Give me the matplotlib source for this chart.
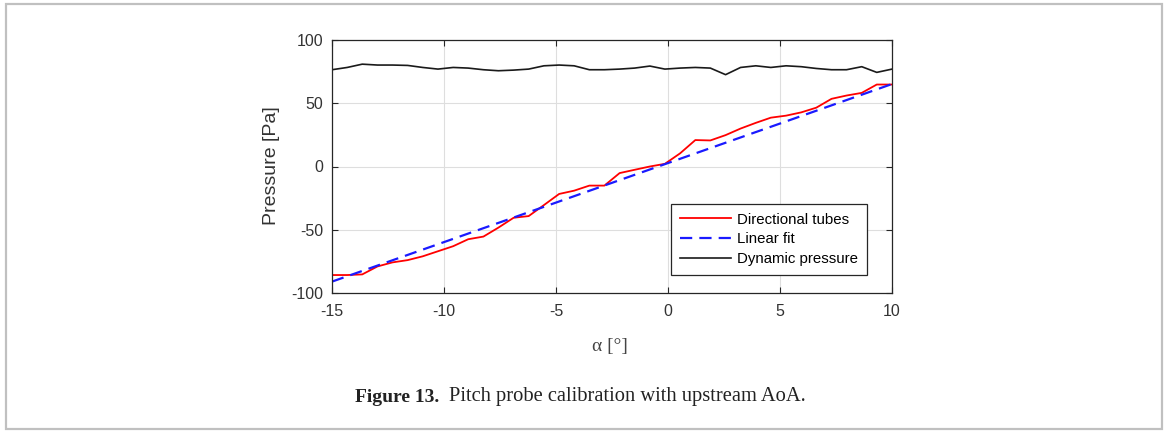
import matplotlib
matplotlib.use("Agg")
import matplotlib.pyplot as plt
from matplotlib.patches import Rectangle

plt.rcParams["axes.unicode_minus"] = False

alpha_deg = [-15.0, -14.32, -13.65, -12.97, -12.30, -11.62, -10.95, -10.27, -9.59, -8.92,
             -8.24, -7.57, -6.89, -6.22, -5.54, -4.86, -4.19, -3.51, -2.84, -2.16,
             -1.49, -0.81, -0.14, 0.54, 1.22, 1.89, 2.57, 3.24, 3.92, 4.59,
             5.27, 5.95, 6.62, 7.30, 7.97, 8.65, 9.32, 10.0]

directional_tubes = [-85.8, -85.8, -85.3, -79.0, -75.8, -74.0, -71.0, -67.0, -63.0, -57.5,
                     -55.4, -48.3, -40.5, -39.2, -30.5, -21.7, -19.1, -15.1, -15.1, -5.2,
                     -2.6, 0.0, 2.1, 10.4, 20.9, 20.6, 24.8, 30.0, 34.5, 38.6,
                     40.2, 42.8, 46.5, 53.5, 56.1, 58.2, 64.8, 64.8]

dynamic_pressure = [76.5, 78.3, 80.9, 80.2, 80.2, 79.9, 78.3, 77.0, 78.3, 77.8,
                    76.5, 75.7, 76.2, 77.0, 79.6, 80.2, 79.6, 76.5, 76.5, 77.0,
                    77.8, 79.4, 77.0, 77.8, 78.3, 77.8, 72.6, 78.3, 79.6, 78.3,
                    79.6, 78.9, 77.5, 76.5, 76.5, 78.9, 74.4, 77.0]

fit_x = [-15.0, 10.0]
fit_y = [-91.0, 65.2]

x_ticks = [-15, -10, -5, 0, 5, 10]
y_ticks = [-100, -50, 0, 50, 100]

W, H = 1168, 432
fig = plt.figure(figsize=(W / 100, H / 100), dpi=100)
fig.patch.set_facecolor("white")

# outer frame
fig.patches.append(Rectangle((6 / W, 1 - 429 / H), (1162 - 6) / W, (429 - 4) / H,
                             transform=fig.transFigure, fill=False,
                             edgecolor="#c0c0c0", linewidth=1.6))

ax = fig.add_axes([332 / W, 1 - 293 / H, (892 - 332) / W, (293 - 40) / H])

axc = "#262626"
ax.plot(alpha_deg, directional_tubes, color="#ff0000", lw=1.3, label="Directional tubes")
ax.plot(fit_x, fit_y, color="#1a1aff", lw=1.6, ls=(0, (5.5, 3.2)), label="Linear fit")
ax.plot(alpha_deg, dynamic_pressure, color="#1a1a1a", lw=1.2, label="Dynamic pressure")

ax.set_xlim(-15, 10)
ax.set_ylim(-100, 100)
ax.set_xticks(x_ticks)
ax.set_yticks(y_ticks)
ax.grid(True, color="#dedede", lw=0.8)
ax.set_axisbelow(True)
ax.tick_params(direction="in", length=4, width=0.8, colors=axc, labelsize=11.5,
               top=True, right=True)
ax.tick_params(axis="x", pad=8)
ax.tick_params(axis="y", pad=6.5)
for lab in ax.get_xticklabels() + ax.get_yticklabels():
    lab.set_fontfamily("Liberation Sans")
    lab.set_color("#333333")
for s in ax.spines.values():
    s.set_color(axc)
    s.set_linewidth(0.9)

fig.text(272 / W, 1 - 166 / H, "Pressure [Pa]", fontsize=14, family="Liberation Sans",
         color="#333333", rotation=90, ha="center", va="center")
fig.text(610 / W, 1 - 346 / H, "α [°]", fontsize=14, family="Liberation Serif",
         color="#444444", ha="center", va="center")

leg = ax.legend(loc="lower right", bbox_to_anchor=(0.955, 0.071),
                prop={"family": "Liberation Sans", "size": 10.8},
                frameon=True, fancybox=False, handlelength=3.4, handletextpad=0.4,
                borderpad=0.6, labelspacing=0.38, borderaxespad=0)
leg.get_frame().set_edgecolor(axc)
leg.get_frame().set_linewidth(0.9)
leg.get_frame().set_alpha(1)

fig.text(355 / W, 1 - 397 / H, "Figure 13.", fontsize=14.0, family="Liberation Serif",
         weight="bold", color="#222222", ha="left", va="center")
fig.text(449 / W, 1 - 397 / H, "Pitch probe calibration with upstream AoA.", fontsize=14.8,
         family="Liberation Serif", color="#222222", ha="left", va="center")

fig.savefig("out.png", dpi=100)
